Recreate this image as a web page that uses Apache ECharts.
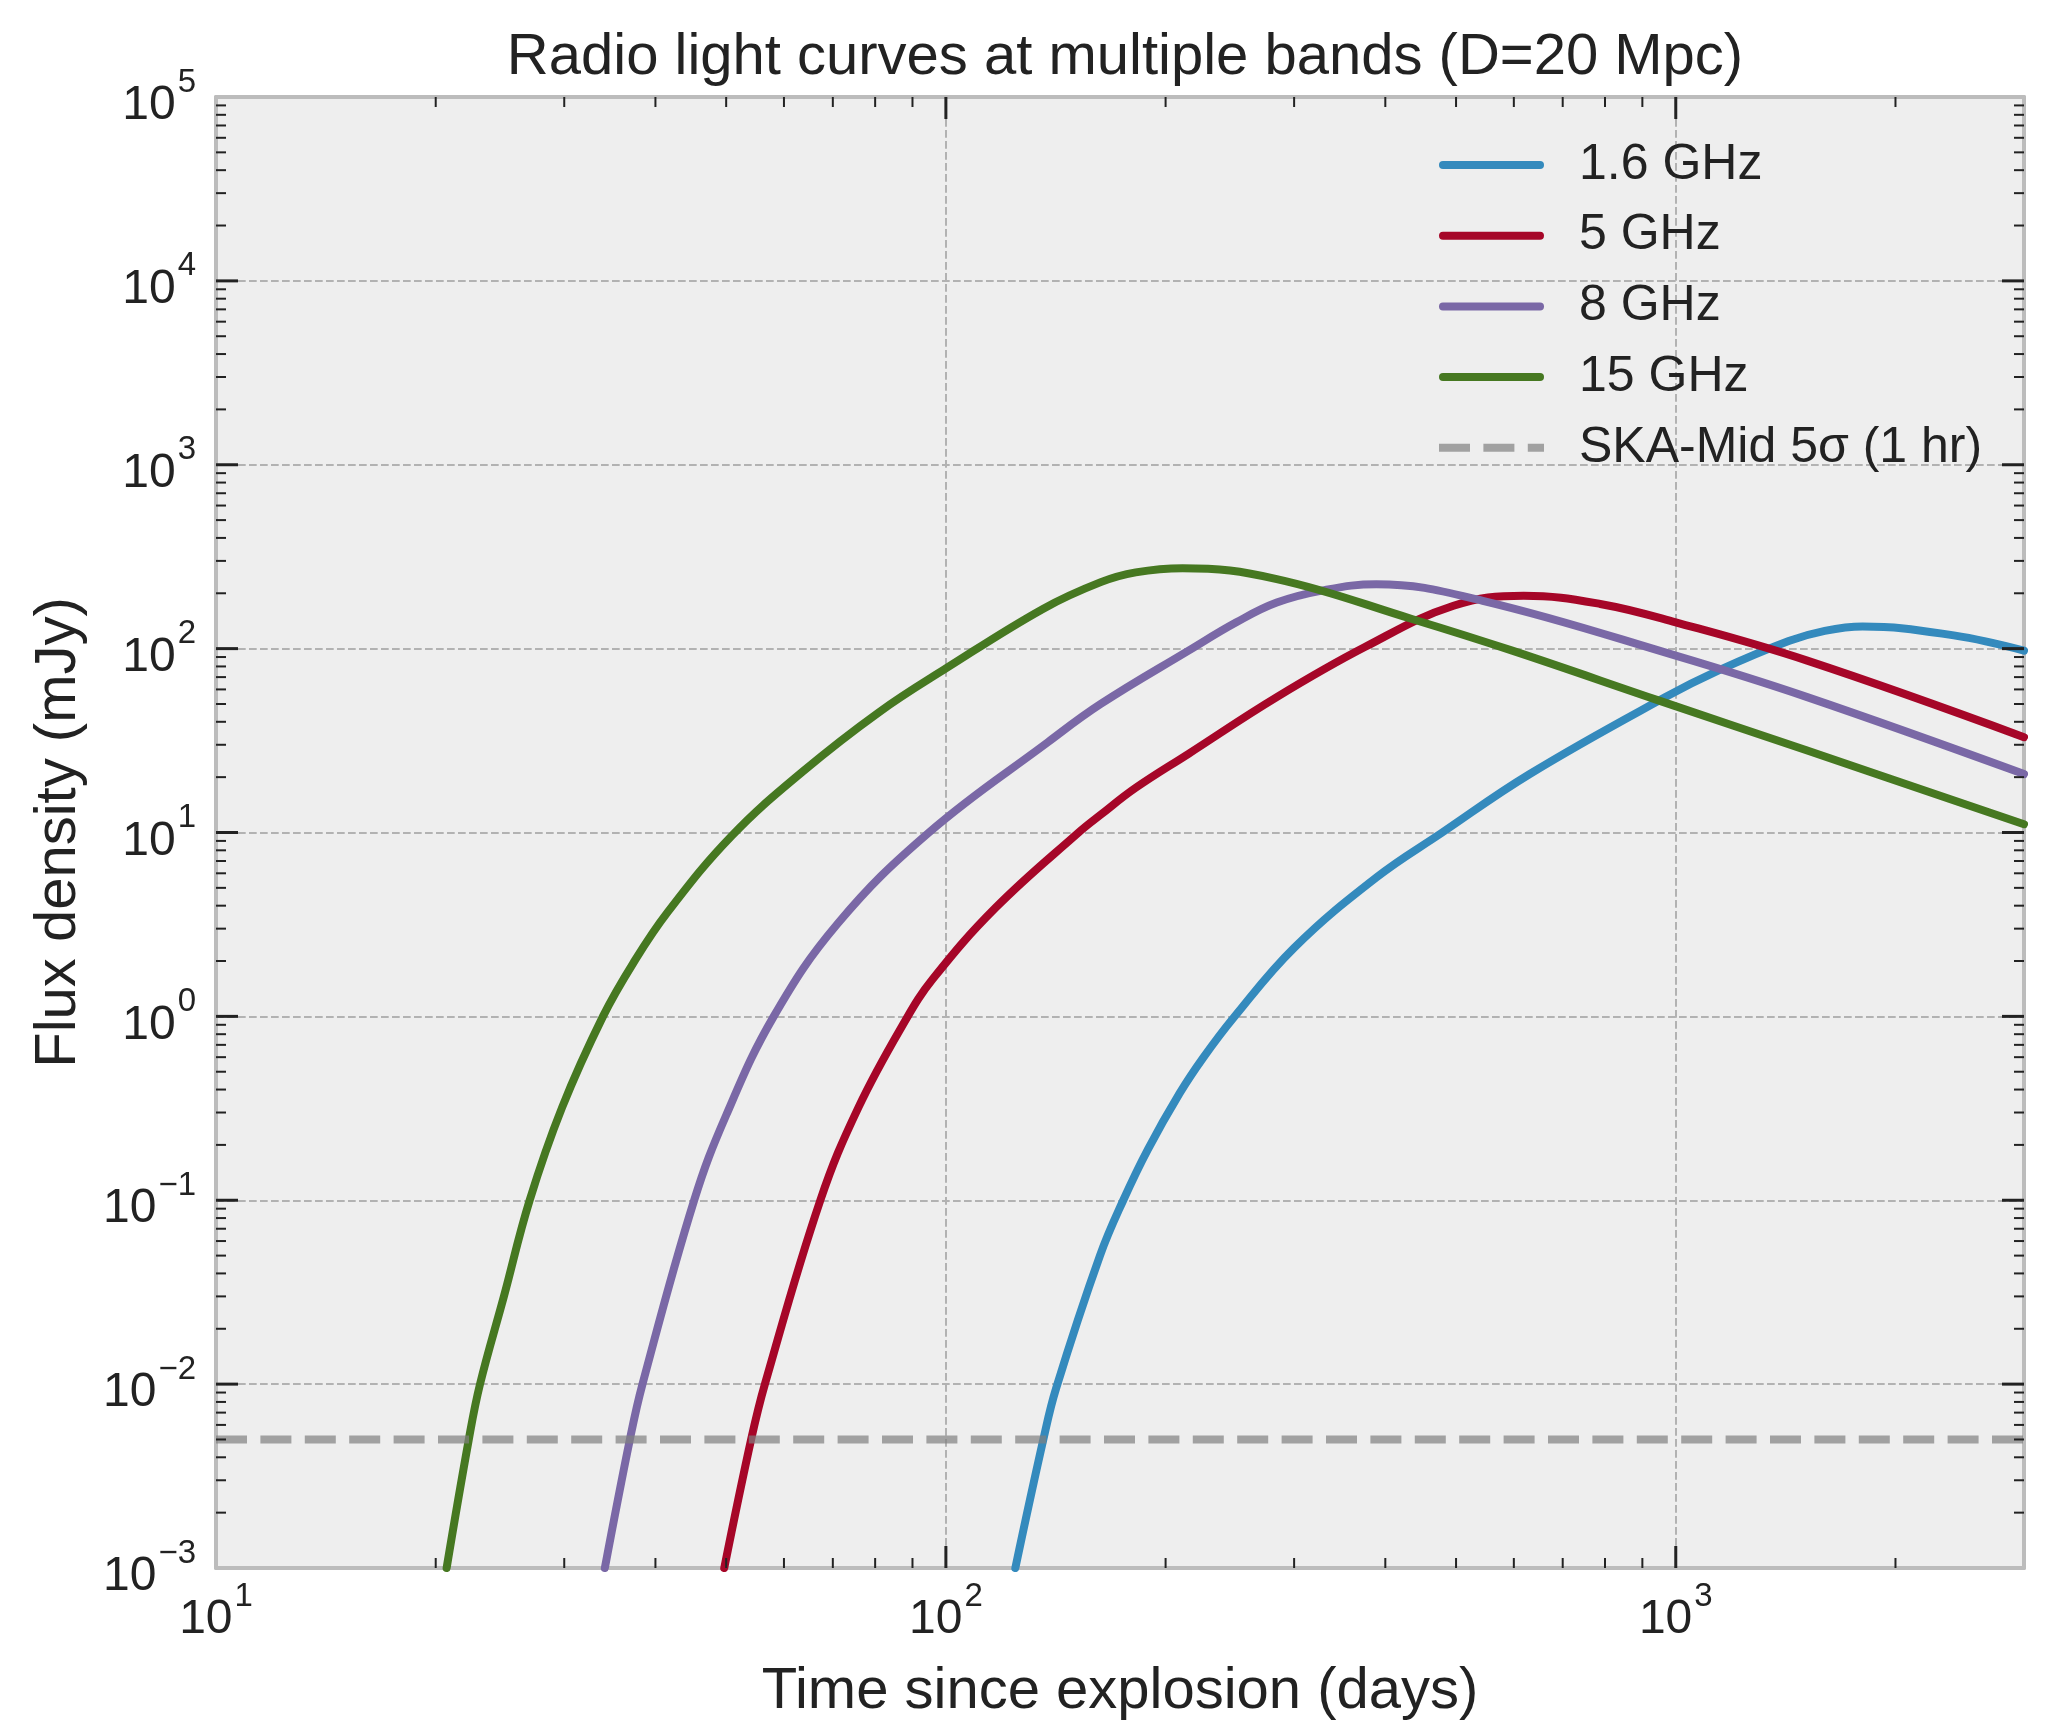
<!DOCTYPE html>
<html>
<head>
<meta charset="utf-8">
<script src="https://cdn.jsdelivr.net/npm/echarts@6/dist/echarts.min.js"></script>
<style>
html,body{margin:0;padding:0;background:#ffffff;}
#chart{width:2054px;height:1722px;}
</style>
</head>
<body>
<div id="chart"></div>
<script>
// ---------------- data ----------------
const seriesNames = ['1.6 GHz', '5 GHz', '8 GHz', '15 GHz', 'SKA-Mid 5σ (1 hr)'];

const t16 = [124.5, 136, 141.6, 162.6, 175, 189, 209, 225, 248, 300, 389, 477, 631, 968, 1143, 1428, 1600, 1803, 2404, 3000];
const f16 = [0.001, 0.005, 0.0095, 0.05, 0.1, 0.188, 0.381, 0.593, 0.986, 2.36, 5.7, 9.9, 20.8, 54.5, 75.9, 110, 125, 132, 118, 97.5];

const t5 = [49.7, 54.1, 56.5, 67.3, 75.9, 88.0, 96, 117, 152, 163, 182, 215, 284, 375, 496, 619, 788, 1000, 1514, 3000];
const f5 = [0.001, 0.005, 0.01, 0.1, 0.32, 0.95, 1.6, 3.9, 10, 12.5, 17.5, 26.8, 54.5, 102, 171, 194, 175, 139, 86, 33];

const t8 = [34.1, 36.9, 38.4, 45.2, 50.0, 58.1, 71.1, 94.8, 138, 163, 215, 250, 284, 330, 389, 544, 1000, 1514, 3000];
const f8 = [0.001, 0.005, 0.01, 0.1, 0.29, 1.0, 3.2, 10, 31, 50, 97.5, 139, 178, 208, 224, 182, 91.6, 54.5, 20.8];

const t15 = [20.7, 22.2, 23.0, 24.8, 26.9, 29.8, 33.9, 37.3, 41.6, 50.9, 63.7, 80.9, 100, 136, 163, 182, 211, 284, 435, 597, 951, 1514, 3000];
const f15 = [0.001, 0.005, 0.01, 0.03, 0.1, 0.32, 1.0, 1.95, 3.7, 9.6, 21.5, 45, 78, 165, 230, 260, 274, 239, 145, 97.5, 52, 27.9, 11.1];

const skaT = [10, 3000];
const skaF = [0.005, 0.005];

// axis ticks
const xMajorTicks = [10, 100, 1000];
const xMinorTicks = [20, 30, 40, 50, 60, 70, 80, 90, 200, 300, 400, 500, 600, 700, 800, 900, 2000];
const yMajorTicks = [1e-3, 1e-2, 1e-1, 1, 10, 100, 1e3, 1e4, 1e5];
const yMinorMultipliers = [2, 3, 4, 5, 6, 7, 8, 9];

const colors = ['#348ABD', '#A60628', '#7A68A6', '#467821'];
const skaColor = 'rgba(128,128,128,0.7)';

// ---------------- helpers ----------------
const FONT = '"Liberation Sans", Arial, Helvetica, sans-serif';
const pairs = (t, f) => t.map((v, i) => [v, f[i]]);

const yMinorTicks = [];
yMajorTicks.slice(0, -1).forEach(d => yMinorMultipliers.forEach(m => yMinorTicks.push(d * m)));

function pow10Exp(v) {
  const e = Math.round(Math.log10(v));
  return Math.abs(v / Math.pow(10, e) - 1) < 1e-6 ? e : null;
}
function powLabel(v) {
  const e = pow10Exp(v);
  if (e === null) return '';
  return '{b|10}{s|' + (e < 0 ? '\u2212' + (-e) : String(e)) + '}';
}
const richLab = {
  b: { fontSize: 48, lineHeight: 80, fontFamily: FONT, color: '#222222' },
  s: { fontSize: 33, lineHeight: 18, verticalAlign: 'top', fontFamily: FONT, color: '#222222', padding: [0, 0, 0, 2] }
};

const tickData = [];
xMajorTicks.forEach(v => tickData.push([v, 1, 0]));
xMinorTicks.forEach(v => tickData.push([v, 1, 1]));
yMajorTicks.forEach(v => tickData.push([100, v, 2]));
yMinorTicks.forEach(v => tickData.push([100, v, 3]));

function renderTick(params, api) {
  const cs = params.coordSys;
  const kind = api.value(2);
  const p = api.coord([api.value(0), api.value(1)]);
  const major = (kind === 0 || kind === 2);
  const len = major ? 22 : 10;
  const style = { stroke: '#222222', lineWidth: major ? 3 : 2 };
  const children = [];
  if (kind < 2) {
    const x = p[0];
    if (x > cs.x + 1.5 && x < cs.x + cs.width - 1.5) {
      const b = cs.y + cs.height, t = cs.y;
      children.push({ type: 'line', shape: { x1: x, y1: b, x2: x, y2: b - len }, style });
      children.push({ type: 'line', shape: { x1: x, y1: t, x2: x, y2: t + len }, style });
    }
  } else {
    const y = p[1];
    if (y > cs.y + 1.5 && y < cs.y + cs.height - 1.5) {
      const l = cs.x, r = cs.x + cs.width;
      children.push({ type: 'line', shape: { x1: l, y1: y, x2: l + len, y2: y }, style });
      children.push({ type: 'line', shape: { x1: r, y1: y, x2: r - len, y2: y }, style });
    }
  }
  return { type: 'group', children };
}

const frameLine = { show: true, lineStyle: { color: '#bcbcbc', width: 4 } };
const gridSplit = { show: true, lineStyle: { color: '#b2b2b2', width: 2, type: [7.7, 3.3] } };

function curve(name, t, f, color) {
  return {
    type: 'line', name, data: pairs(t, f),
    symbol: 'none', showSymbol: false,
    smooth: 0.4,
    lineStyle: { color, width: 8, cap: 'round', join: 'round' },
    itemStyle: { color },
    z: 3, silent: true
  };
}

// legend icons: thick solid bar, and a dashed bar for the sensitivity line
const solidIcon = 'path://M4,0h97a4,4 0 0 1 0,8h-97a4,4 0 0 1 0,-8z';
const dashIcon = 'path://M0,0h31v8h-31z M44.4,0h31v8h-31z M88.8,0h16.2v8h-16.2z';

const chart = echarts.init(document.getElementById('chart'), null, { renderer: 'canvas' });
chart.setOption({
  animation: false,
  backgroundColor: '#ffffff',
  title: {
    text: 'Radio light curves at multiple bands (D=20 Mpc)',
    left: 1120, top: 24, textAlign: 'center',
    textStyle: { fontSize: 58, fontWeight: 'normal', fontFamily: FONT, color: '#222222' }
  },
  grid: {
    left: 216, top: 97, width: 1808, height: 1471,
    outerBoundsMode: 'none', containLabel: false,
    show: true, backgroundColor: '#eeeeee', borderWidth: 0
  },
  legend: {
    orient: 'vertical', left: 1434, top: 131,
    itemWidth: 105, itemHeight: 8, itemGap: 12.7,
    selectedMode: false,
    data: [
      { name: seriesNames[0], icon: solidIcon, itemStyle: { color: colors[0] } },
      { name: seriesNames[1], icon: solidIcon, itemStyle: { color: colors[1] } },
      { name: seriesNames[2], icon: solidIcon, itemStyle: { color: colors[2] } },
      { name: seriesNames[3], icon: solidIcon, itemStyle: { color: colors[3] } },
      { name: seriesNames[4], icon: dashIcon, itemStyle: { color: skaColor } }
    ],
    textStyle: { fontSize: 50, fontFamily: FONT, color: '#222222', lineHeight: 58, padding: [0, 0, 0, 30] }
  },
  xAxis: [
    {
      type: 'log', logBase: 10, min: 10, max: 3000,
      name: 'Time since explosion (days)', nameLocation: 'middle', nameGap: 95,
      nameTextStyle: { fontSize: 58, fontFamily: FONT, color: '#222222' },
      axisLine: frameLine, axisTick: { show: false },
      axisLabel: { formatter: powLabel, rich: richLab, margin: 12, showMinLabel: true, showMaxLabel: true },
      splitLine: gridSplit
    },
    {
      type: 'log', logBase: 10, min: 10, max: 3000, position: 'top',
      axisLine: frameLine, axisTick: { show: false }, axisLabel: { show: false }, splitLine: { show: false }
    }
  ],
  yAxis: [
    {
      type: 'log', logBase: 10, min: 1e-3, max: 1e5,
      name: 'Flux density (mJy)', nameLocation: 'middle', nameGap: 128,
      nameTextStyle: { fontSize: 58, fontFamily: FONT, color: '#222222' },
      axisLine: frameLine, axisTick: { show: false },
      axisLabel: { formatter: powLabel, rich: richLab, margin: 20, padding: [18, 0, 0, 0], showMinLabel: true, showMaxLabel: true },
      splitLine: gridSplit
    },
    {
      type: 'log', logBase: 10, min: 1e-3, max: 1e5, position: 'right',
      axisLine: frameLine, axisTick: { show: false }, axisLabel: { show: false }, splitLine: { show: false }
    }
  ],
  series: [
    curve(seriesNames[0], t16, f16, colors[0]),
    curve(seriesNames[1], t5, f5, colors[1]),
    curve(seriesNames[2], t8, f8, colors[2]),
    curve(seriesNames[3], t15, f15, colors[3]),
    {
      type: 'line', name: seriesNames[4], data: pairs(skaT, skaF),
      symbol: 'none', showSymbol: false, silent: true, z: 4,
      lineStyle: { color: skaColor, width: 8, type: [31, 13.4], cap: 'butt' },
      itemStyle: { color: skaColor }
    },
    {
      type: 'custom', name: 'ticks', coordinateSystem: 'cartesian2d',
      xAxisIndex: 0, yAxisIndex: 0, data: tickData,
      renderItem: renderTick, silent: true, z: 10, clip: false
    }
  ]
});
</script>
</body>
</html>
